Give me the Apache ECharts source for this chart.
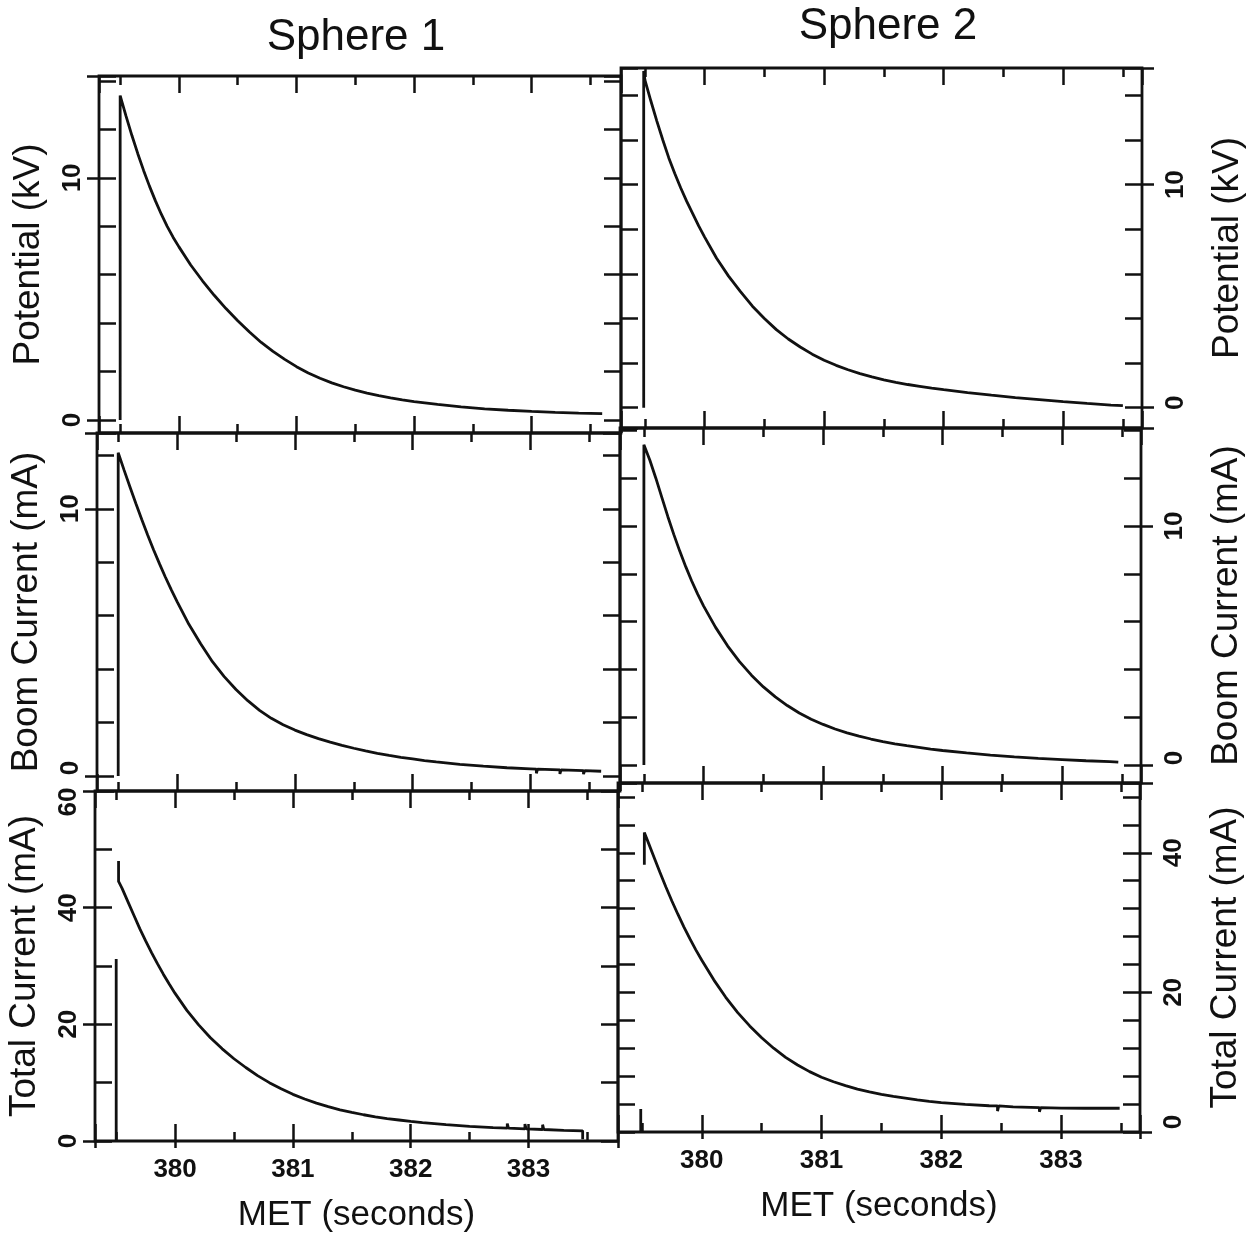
<!DOCTYPE html>
<html>
<head>
<meta charset="utf-8">
<title>Sphere potential, boom current and total current</title>
<script src="https://cdn.jsdelivr.net/npm/echarts@6/dist/echarts.min.js"></script>
<style>
  html, body { margin: 0; padding: 0; background: #fff; }
  #chart { width: 1250px; height: 1236px; }
</style>
</head>
<body>
<div id="chart"></div>
<script>
// ---- Measured traces: [MET seconds, value] ----
// Sphere 1
const potential1 = [[379.50,0],[379.50,13.4],[379.55,12.55],[379.60,11.75],[379.65,11.0],[379.70,10.3],[379.75,9.65],[379.80,9.05],[379.85,8.5],[379.90,8.0],[379.95,7.55],[380.00,7.15],[380.10,6.4],[380.20,5.75],[380.30,5.15],[380.40,4.6],[380.50,4.1],[380.60,3.63],[380.70,3.2],[380.80,2.83],[380.90,2.5],[381.00,2.2],[381.10,1.94],[381.20,1.72],[381.30,1.53],[381.40,1.37],[381.50,1.23],[381.60,1.11],[381.70,1.0],[381.80,0.91],[381.90,0.83],[382.00,0.76],[382.20,0.64],[382.40,0.54],[382.60,0.46],[382.80,0.40],[383.00,0.35],[383.20,0.31],[383.40,0.28],[383.60,0.26]];
const boom1 = [[379.50,0],[379.50,12.1],[379.55,11.45],[379.60,10.82],[379.65,10.2],[379.70,9.6],[379.75,9.02],[379.80,8.47],[379.85,7.95],[379.90,7.45],[379.95,6.98],[380.00,6.53],[380.10,5.68],[380.20,4.95],[380.30,4.28],[380.40,3.72],[380.50,3.24],[380.60,2.82],[380.70,2.46],[380.80,2.16],[380.90,1.92],[381.00,1.72],[381.10,1.55],[381.20,1.40],[381.30,1.27],[381.40,1.15],[381.50,1.04],[381.60,0.94],[381.70,0.85],[381.80,0.77],[381.90,0.70],[382.00,0.64],[382.10,0.58],[382.20,0.53],[382.40,0.44],[382.60,0.37],[382.80,0.31],[383.00,0.27],[383.05,0.26],[383.05,0.10],[383.06,0.26],[383.25,0.23],[383.25,0.08],[383.26,0.23],[383.45,0.20],[383.45,0.07],[383.46,0.20],[383.60,0.18]];
const total1Spike = [[379.50,0],[379.50,31.2]];
const total1 = [[379.52,48.0],[379.52,44.5],[379.55,43.3],[379.60,41.0],[379.65,38.7],[379.70,36.4],[379.75,34.3],[379.80,32.3],[379.85,30.4],[379.90,28.6],[379.95,26.9],[380.00,25.3],[380.10,22.4],[380.20,19.9],[380.30,17.7],[380.40,15.8],[380.50,14.1],[380.60,12.6],[380.70,11.2],[380.80,10.0],[380.90,8.95],[381.00,8.0],[381.10,7.2],[381.20,6.5],[381.30,5.9],[381.40,5.35],[381.50,4.9],[381.60,4.5],[381.70,4.15],[381.80,3.85],[381.90,3.6],[382.00,3.35],[382.10,3.15],[382.30,2.8],[382.50,2.5],[382.70,2.3],[382.82,2.2],[382.82,3.0],[382.83,2.2],[382.97,2.08],[382.97,2.9],[382.98,2.08],[383.12,1.97],[383.12,2.8],[383.13,1.97],[383.30,1.82],[383.46,1.75],[383.46,0.3]];
// Sphere 2
const potential2 = [[379.49,0],[379.49,15.1],[379.50,14.7],[379.55,13.75],[379.60,12.85],[379.65,12.0],[379.70,11.2],[379.75,10.5],[379.80,9.85],[379.85,9.25],[379.90,8.7],[379.95,8.15],[380.00,7.65],[380.10,6.7],[380.20,5.9],[380.30,5.2],[380.40,4.55],[380.50,4.0],[380.60,3.5],[380.70,3.08],[380.80,2.72],[380.90,2.4],[381.00,2.13],[381.10,1.9],[381.20,1.7],[381.30,1.53],[381.40,1.38],[381.50,1.25],[381.60,1.14],[381.70,1.04],[381.80,0.96],[381.90,0.88],[382.00,0.81],[382.20,0.68],[382.40,0.56],[382.60,0.45],[382.80,0.36],[383.00,0.27],[383.20,0.19],[383.40,0.12],[383.50,0.09]];
const boom2 = [[379.50,0],[379.50,13.4],[379.55,12.75],[379.60,12.0],[379.65,11.2],[379.70,10.4],[379.75,9.65],[379.80,8.95],[379.85,8.3],[379.90,7.7],[379.95,7.15],[380.00,6.65],[380.10,5.76],[380.20,4.99],[380.30,4.33],[380.40,3.76],[380.50,3.27],[380.60,2.85],[380.70,2.49],[380.80,2.18],[380.90,1.92],[381.00,1.70],[381.10,1.51],[381.20,1.35],[381.30,1.21],[381.40,1.09],[381.50,0.98],[381.60,0.89],[381.70,0.81],[381.80,0.74],[381.90,0.67],[382.00,0.61],[382.20,0.51],[382.40,0.42],[382.60,0.34],[382.80,0.28],[383.00,0.23],[383.20,0.18],[383.40,0.14],[383.47,0.12]];
const total2Spike = [[379.49,0],[379.49,3.3]];
const total2 = [[379.52,38.3],[379.52,42.9],[379.55,41.6],[379.60,39.4],[379.65,37.2],[379.70,35.1],[379.75,33.1],[379.80,31.2],[379.85,29.4],[379.90,27.7],[379.95,26.1],[380.00,24.6],[380.10,21.8],[380.20,19.3],[380.30,17.1],[380.40,15.2],[380.50,13.5],[380.60,12.0],[380.70,10.7],[380.80,9.6],[380.90,8.65],[381.00,7.85],[381.10,7.2],[381.20,6.65],[381.30,6.15],[381.40,5.75],[381.50,5.4],[381.60,5.1],[381.70,4.85],[381.80,4.6],[381.90,4.4],[382.00,4.22],[382.20,3.95],[382.40,3.76],[382.47,3.74],[382.47,3.0],[382.48,3.73],[382.60,3.6],[382.82,3.5],[382.82,2.9],[382.83,3.5],[383.00,3.42],[383.20,3.4],[383.49,3.4]];

// ---- Axis ranges ----
const timeSphere1 = [379.32, 383.76];
const timeSphere2 = [379.30, 383.66];
const columnTitles = ['Sphere 1', 'Sphere 2'];
const timeAxisName = 'MET (seconds)';

// ---- Layout ----
const FONT = '"Liberation Sans", Arial, Helvetica, sans-serif';
const NUM_FONT = '"Liberation Sans Narrow", "Liberation Sans", Arial, sans-serif';
const INK = '#111';
const TICK_W = 2.5;
const CURVE_W = 2.8;

// labelShift: value label -> screen pixels (+ down, - up) for labels sitting at a frame edge
const panels = [
  { box: [99, 76, 522, 357],  t: timeSphere1, v: [-0.54, 14.21], step: 2,  major: 10, side: 'left',  name: 'Potential (kV)',     lines: [potential1], labelShift: {} },
  { box: [97, 433, 523, 358], t: timeSphere1, v: [-0.56, 12.84], step: 2,  major: 10, side: 'left',  name: 'Boom Current (mA)',  lines: [boom1], labelShift: { '0': -8 } },
  { box: [95, 791, 523, 350], t: timeSphere1, v: [0, 60],        step: 10, major: 20, side: 'left',  name: 'Total Current (mA)', lines: [total1Spike, total1], timeLabels: true, labelShift: { '60': 11 } },
  { box: [621, 68, 521, 360], t: timeSphere2, v: [-0.91, 15.23], step: 2,  major: 10, side: 'right', name: 'Potential (kV)',     lines: [potential2], labelShift: { '0': -5 } },
  { box: [620, 428, 521, 355], t: timeSphere2, v: [-0.75, 14.1], step: 2,  major: 10, side: 'right', name: 'Boom Current (mA)',  lines: [boom2], labelShift: { '0': -7 } },
  { box: [618, 783, 522, 349], t: timeSphere2, v: [0, 50],        step: 4, major: 20, side: 'right', name: 'Total Current (mA)', lines: [total2Spike, total2], timeLabels: true, labelShift: { '0': -10 } }
];

function onMultiple(v, m) {
  const r = v / m;
  return Math.abs(r - Math.round(r)) < 1e-6;
}

// An axis that only draws ticks at a fixed spacing (labels off).
function tickAxis(g, range, pos, spacing, len, inside) {
  return {
    type: 'value', gridIndex: g, position: pos,
    min: range[0], max: range[1],
    minInterval: spacing, maxInterval: spacing,
    axisLine: { show: false, onZero: false },
    splitLine: { show: false },
    axisLabel: { show: false },
    axisTick: { show: true, inside: inside, length: len, lineStyle: { color: INK, width: TICK_W } }
  };
}

const numStyle = { fontSize: 26, fontWeight: 'bold', fontFamily: NUM_FONT, color: INK };

const option = {
  animation: false,
  backgroundColor: '#fff',
  grid: [], xAxis: [], yAxis: [], series: [],
  graphic: [
    { type: 'text', x: 356, y: 38, style: { text: columnTitles[0], fontSize: 44, fontFamily: FONT, fill: INK, align: 'center', verticalAlign: 'middle' } },
    { type: 'text', x: 888, y: 27, style: { text: columnTitles[1], fontSize: 44, fontFamily: FONT, fill: INK, align: 'center', verticalAlign: 'middle' } }
  ]
};

panels.forEach((p, g) => {
  option.grid.push({
    left: p.box[0], top: p.box[1], width: p.box[2], height: p.box[3],
    show: true, borderColor: INK, borderWidth: 2.8, backgroundColor: 'rgba(0,0,0,0)'
  });

  // time ticks: whole seconds long, half seconds short, on the bottom and top edges
  const xi = option.xAxis.length;
  ['bottom', 'top'].forEach(pos => {
    option.xAxis.push(tickAxis(g, p.t, pos, 1, 17, true));
    option.xAxis.push(tickAxis(g, p.t, pos, 0.5, 9, true));
  });
  if (p.timeLabels) {
    const ax = tickAxis(g, p.t, 'bottom', 1, 7, false);
    ax.axisLabel = Object.assign({ show: true, margin: 16 }, numStyle, {
      formatter: v => onMultiple(v, 1) ? String(Math.round(v)) : ''
    });
    ax.name = timeAxisName;
    ax.nameLocation = 'middle';
    ax.nameGap = 57;
    ax.nameTextStyle = { fontSize: 35, fontFamily: FONT, color: INK };
    option.xAxis.push(ax);
  }

  // value ticks on both sides, labelled axis on the outer side
  const yi = option.yAxis.length;
  option.yAxis.push(tickAxis(g, p.v, 'left', p.step, 17, true));
  option.yAxis.push(tickAxis(g, p.v, 'right', p.step, 17, true));
  const lab = tickAxis(g, p.v, p.side, p.major, 12, false);
  const rich = {};
  Object.keys(p.labelShift).forEach((k, i) => {
    const d = p.labelShift[k];
    // rotated text: padding on one end slides the digits along the axis
    rich['s' + i] = Object.assign({}, numStyle, { padding: d > 0 ? [0, 2 * d, 0, 0] : [0, 0, 0, -2 * d] });
  });
  lab.axisLabel = Object.assign({ show: true, rotate: 90, margin: p.side === 'left' ? 13 : 21, rich: rich }, numStyle, {
    formatter: v => {
      if (!onMultiple(v, p.major)) return '';
      const s = String(Math.round(v));
      const i = Object.keys(p.labelShift).indexOf(s);
      return i >= 0 ? '{s' + i + '|' + s + '}' : s;
    }
  });
  lab.name = p.name;
  lab.nameLocation = 'middle';
  lab.nameRotate = 90;
  lab.nameGap = p.side === 'left' ? 52 : 67;
  lab.nameTextStyle = { fontSize: 37, fontFamily: FONT, color: INK };
  option.yAxis.push(lab);

  p.lines.forEach(d => {
    option.series.push({
      type: 'line', xAxisIndex: xi, yAxisIndex: yi, data: d,
      symbol: 'none', showSymbol: false, silent: true, clip: true,
      lineStyle: { color: INK, width: CURVE_W }
    });
  });
});

const chart = echarts.init(document.getElementById('chart'), null, { renderer: 'canvas' });
chart.setOption(option);
</script>
</body>
</html>
